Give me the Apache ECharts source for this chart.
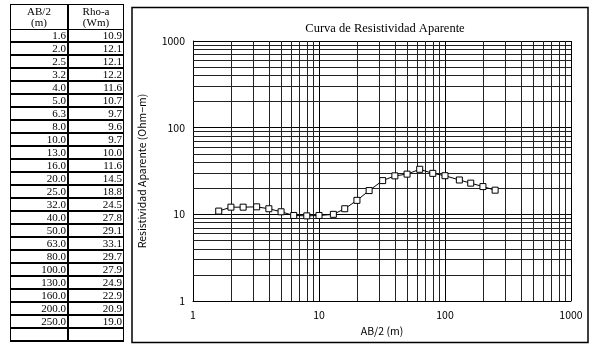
<!DOCTYPE html>
<html>
<head>
<meta charset="utf-8">
<script src="https://cdn.jsdelivr.net/npm/echarts@6/dist/echarts.min.js"></script>
<style>
  html, body { margin: 0; padding: 0; background: #fff; }
  #main { position: absolute; left: 0; top: 0; width: 596px; height: 349px; }
  #tbl { position: absolute; left: 10px; top: 4px; border-collapse: collapse; font-family: 'Liberation Serif', serif; font-size: 11px; color: #000; }
  #tbl td { border: 1px solid #000; border-bottom-width: 2px; height: 10.6px; line-height: 11px; padding: 0 1px; text-align: right; vertical-align: bottom; }
  #tbl td.c1 { width: 54px; border-right-width: 2px; }
  #tbl td.c2 { width: 52px; }
  #tbl tr.head td { text-align: center; vertical-align: middle; line-height: 11.5px; height: 24px; border-bottom-width: 1px; }
</style>
</head>
<body>
<div id="main"></div>
<table id="tbl"></table>
<script>
// datos de la curva
var abHalf = [1.6, 2.0, 2.5, 3.2, 4.0, 5.0, 6.3, 8.0, 10.0, 13.0, 16.0, 20.0, 25.0, 32.0, 40.0, 50.0, 63.0, 80.0, 100.0, 130.0, 160.0, 200.0, 250.0];
var rhoA = [10.9, 12.1, 12.1, 12.2, 11.6, 10.7, 9.7, 9.6, 9.7, 10.0, 11.6, 14.5, 18.8, 24.5, 27.8, 29.1, 33.1, 29.7, 27.9, 24.9, 22.9, 20.9, 19.0];
var minorX = [2, 3, 4, 5, 6, 7, 8, 9, 20, 30, 40, 50, 60, 70, 80, 90, 200, 300, 400, 500, 600, 700, 800, 900];
var minorY = [2, 3, 4, 5, 6, 7, 8, 9, 20, 30, 40, 50, 60, 70, 80, 90, 200, 300, 400, 500, 600, 700, 800, 900];

// tabla
var html = '<tr class="head"><td class="c1">AB/2<br>(m)</td><td class="c2">Rho-a<br>(Wm)</td></tr>';
for (var i = 0; i < abHalf.length; i++) {
    html += '<tr><td class="c1">' + abHalf[i].toFixed(1) + '</td><td class="c2">' + rhoA[i].toFixed(1) + '</td></tr>';
}
html += '<tr><td class="c1">&nbsp;</td><td class="c2">&nbsp;</td></tr>';
document.getElementById('tbl').innerHTML = html;

var chart = echarts.init(document.getElementById('main'));
var gridLine = { color: '#000', width: 1, type: 'solid' };
var labelFont = { color: '#000', fontSize: 10.5, fontFamily: 'Noto Sans CJK JP' };
var plainNum = function (v) { return String(v); };

option = {
    animation: false,
    backgroundColor: '#fff',
    graphic: [{
        type: 'rect',
        shape: { x: 132, y: 7.5, width: 456, height: 335 },
        style: { fill: 'none', stroke: '#000', lineWidth: 1.5 },
        silent: true
    }],
    title: {
        text: 'Curva de Resistividad Aparente',
        left: 380, top: 17, textAlign: 'center',
        textStyle: { fontFamily: 'Liberation Serif', fontWeight: 'normal', fontSize: 12.5, color: '#000' }
    },
    grid: { left: 193, right: 25, top: 41, bottom: 48 },
    xAxis: {
        type: 'log', min: 1, max: 1000, logBase: 10,
        name: 'AB/2 (m)', nameLocation: 'middle', nameGap: 15,
        nameTextStyle: labelFont,
        axisLine: { lineStyle: { color: '#000', width: 1 } },
        axisTick: { show: false },
        axisLabel: Object.assign({ margin: 9, formatter: plainNum }, labelFont),
        splitLine: { show: true, lineStyle: gridLine }
    },
    yAxis: {
        type: 'log', min: 1, max: 1000, logBase: 10,
        name: 'Resistividad Aparente (Ohm−m)', nameLocation: 'middle', nameGap: 46,
        nameTextStyle: labelFont,
        axisLine: { show: true, lineStyle: { color: '#000', width: 1 } },
        axisTick: { show: false },
        axisLabel: Object.assign({ margin: 8, formatter: plainNum }, labelFont),
        splitLine: { show: true, lineStyle: gridLine }
    },
    series: [{
        type: 'line',
        data: [],
        z: 1,
        markLine: {
            silent: true,
            symbol: 'none',
            animation: false,
            label: { show: false },
            lineStyle: { color: '#222', width: 1, type: 'solid' },
            data: minorX.map(function (v) { return { xAxis: v }; })
                .concat(minorY.map(function (v) { return { yAxis: v }; }))
        }
    }, {
        type: 'line',
        z: 5,
        data: abHalf.map(function (x, i) { return [x, rhoA[i]]; }),
        symbol: 'rect',
        symbolSize: 6,
        lineStyle: { color: '#000', width: 1 },
        itemStyle: { color: '#fff', borderColor: '#000', borderWidth: 1 }
    }]
};
chart.setOption(option);
</script>
</body>
</html>
